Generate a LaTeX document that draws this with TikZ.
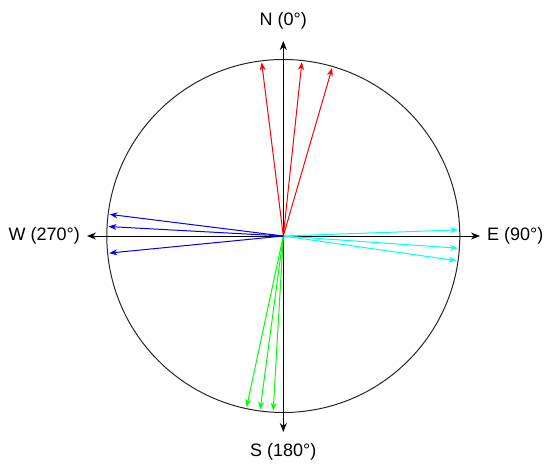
\documentclass[tikz,border=0pt]{standalone}
\usepackage{fontspec}
\setmainfont{Liberation Sans}
\usetikzlibrary{arrows.meta,calc}
\definecolor{vred}{RGB}{255,0,0}
\definecolor{vcyan}{RGB}{0,255,255}
\definecolor{vgreen}{RGB}{0,255,0}
\definecolor{vblue}{RGB}{0,0,255}
\begin{document}
\begin{tikzpicture}[x=1pt,y=-1pt,
  axis/.style={black,line width=1pt,-{Stealth[length=9pt,width=7pt]}},
  vec/.style={line width=1pt,-{Stealth[length=8pt,width=6pt]}},
  lab/.style={font=\fontsize{18}{21}\selectfont,inner sep=0pt}]
\useasboundingbox (0,0) rectangle (550,472);
\coordinate (O) at (283.3,236);
\draw[line width=1pt,black!85] (O) circle (176.5);
% axes
\coordinate (An) at (283.3,41);
\coordinate (As) at (283.3,432);
\coordinate (Ae) at (480,236);
\coordinate (Aw) at (87,236);
\draw[axis] (O) -- (An);
\draw[axis] (O) -- (As);
\draw[axis] (O) -- (Ae);
\draw[axis] (O) -- (Aw);
\node[lab] (N) at (283.3,21) {N (0°)};
\node[lab] (S) at (283.3,452) {S (180°)};
\node[lab,anchor=west] (E) at (487,236) {E (90°)};
\node[lab,anchor=east] (W) at (80,236) {W (270°)};
% vectors: angle measured clockwise from north
\foreach \a/\c/\n in {352.9/vred/r1, 6.1/vred/r2, 16.2/vred/r3,
                      88/vcyan/c1, 94/vcyan/c2, 98.1/vcyan/c3,
                      183.3/vgreen/g1, 187.6/vgreen/g2, 192.1/vgreen/g3,
                      264.4/vblue/b1, 273.1/vblue/b2, 277.1/vblue/b3}{
  \coordinate (\n) at ($(O)+({175*sin(\a)},{-175*cos(\a)})$);
  \draw[vec,\c] (O) -- (\n);
}
\end{tikzpicture}
\end{document}
